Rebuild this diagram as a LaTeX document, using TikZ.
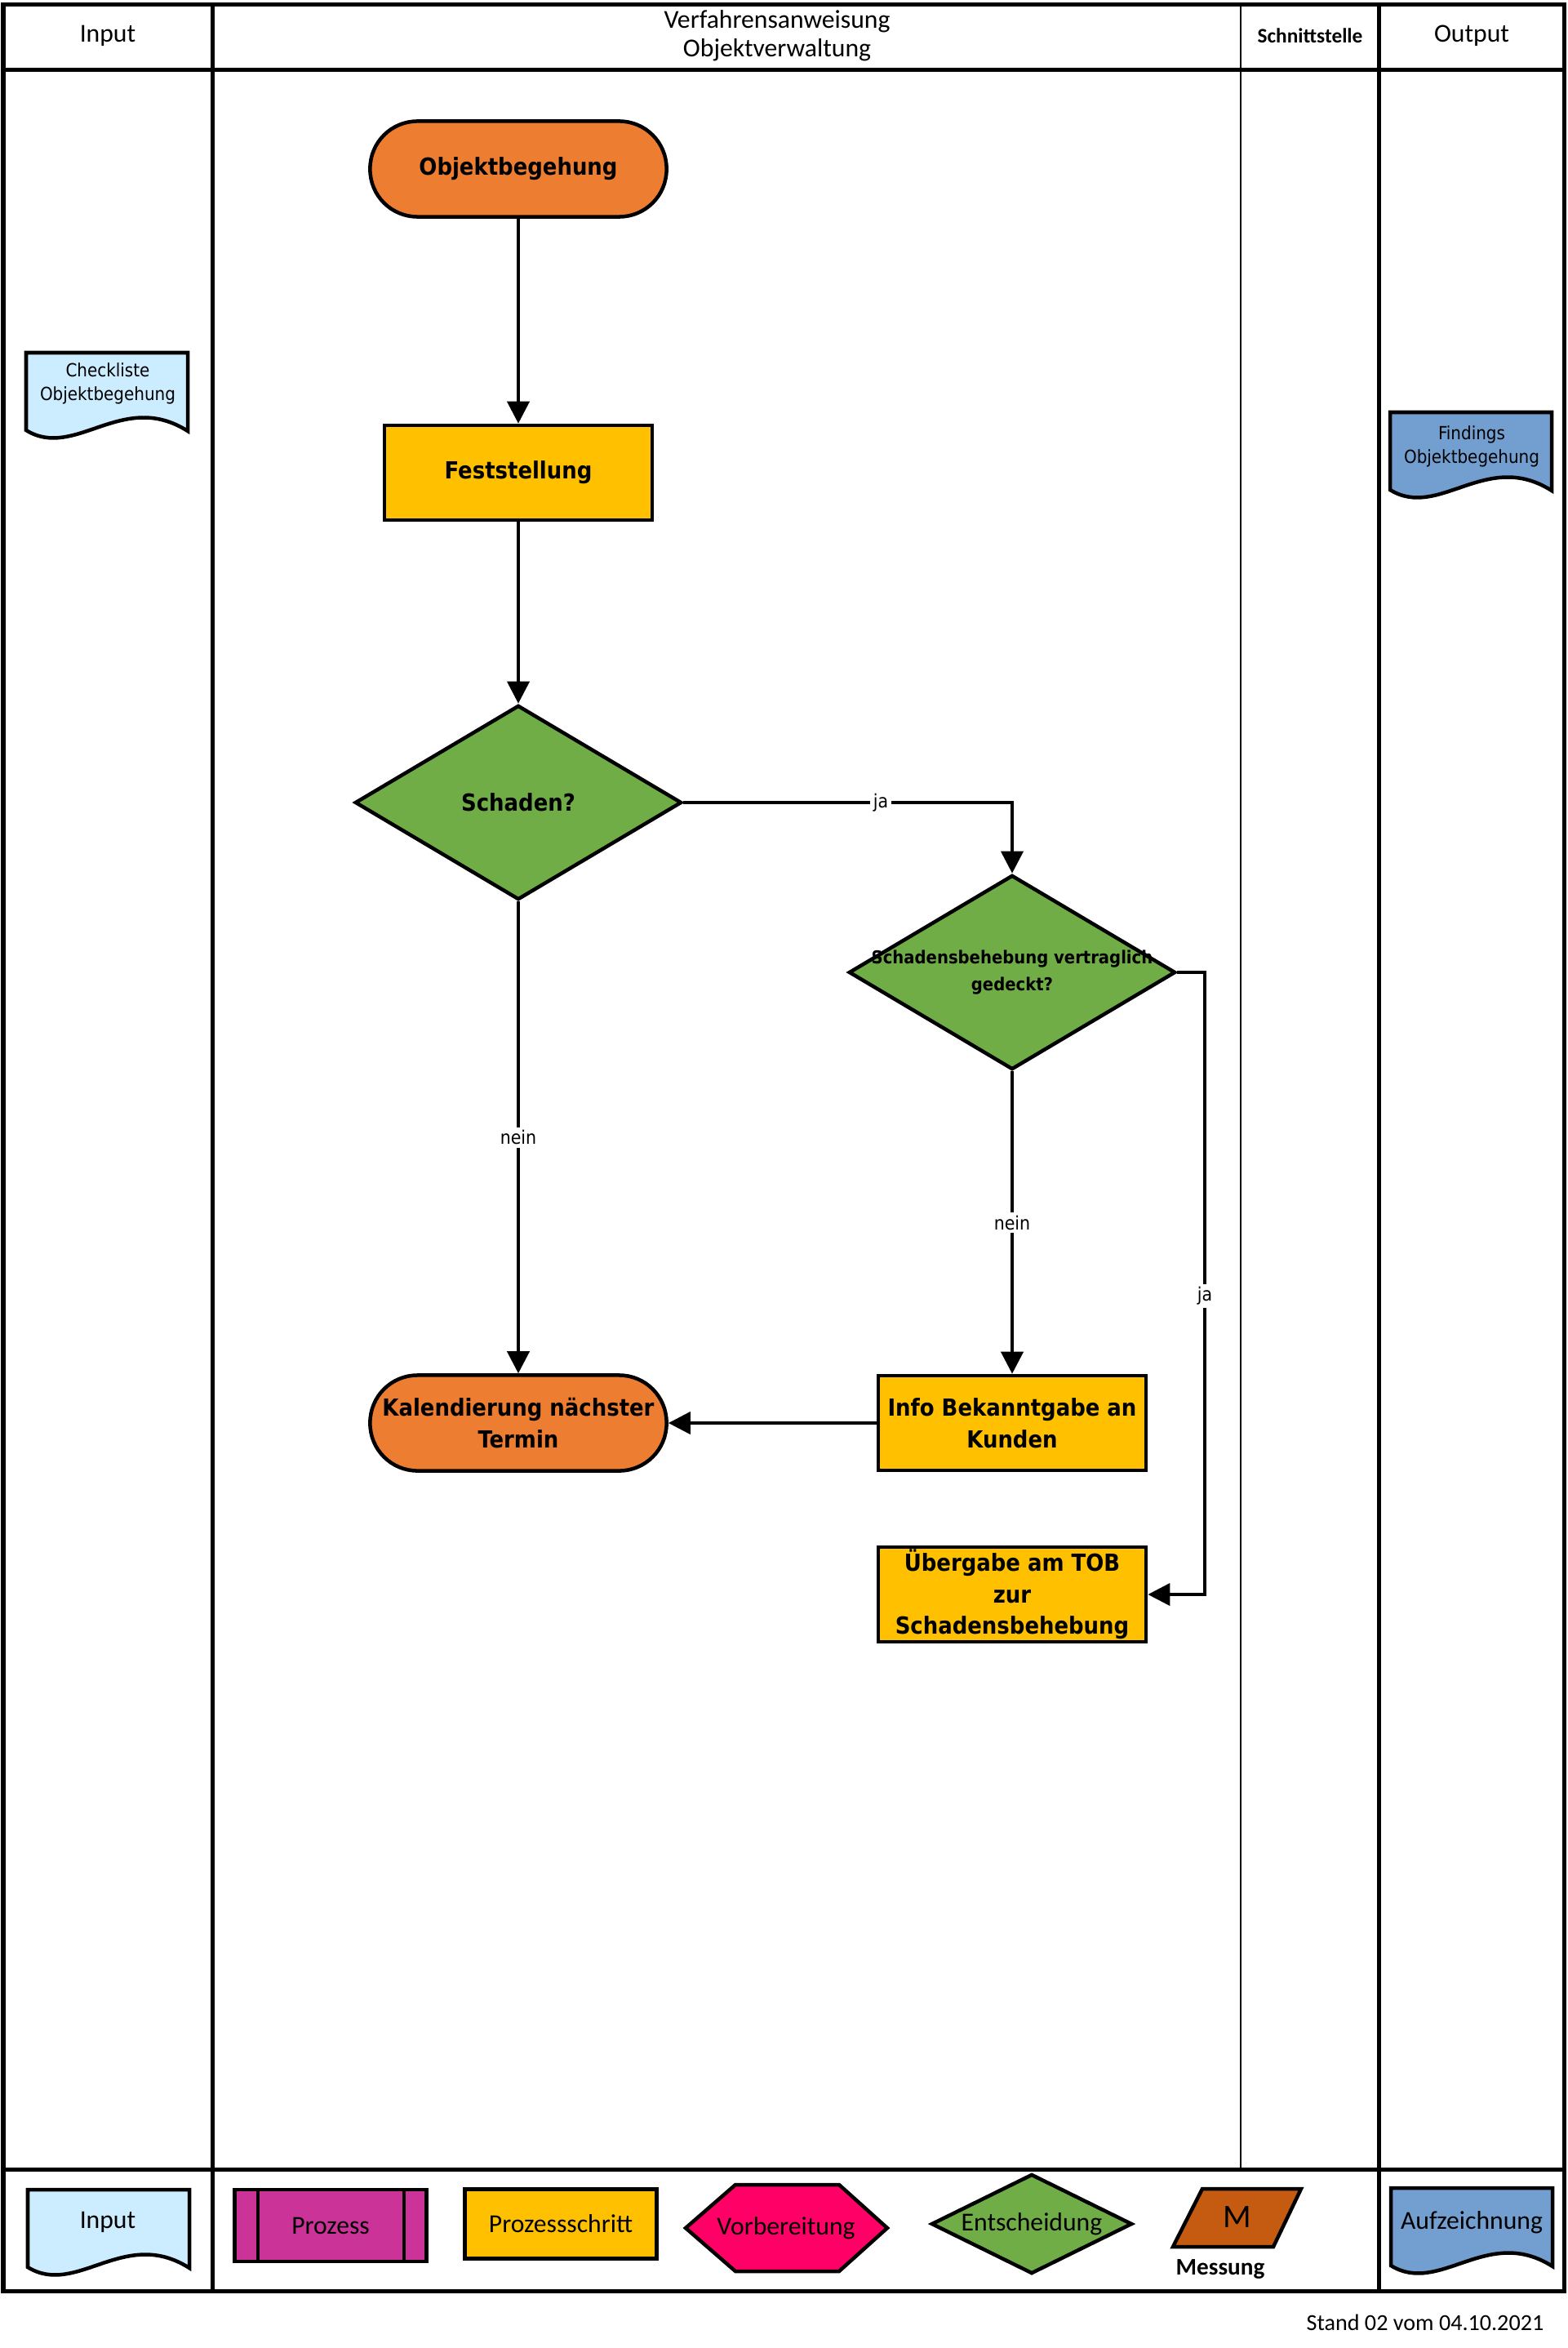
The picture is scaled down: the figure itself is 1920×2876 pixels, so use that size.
\documentclass[tikz,border=0pt]{standalone}
\usepackage{fontspec}
\setmainfont{Carlito}
\newfontfamily\flowfont{DejaVu Sans Condensed}
\usepackage{tikz}
\usetikzlibrary{
  calc,
  positioning,
  arrows.meta,
  shapes.geometric
}
\definecolor{termorange}{HTML}{ED7D31}
\definecolor{stepyellow}{HTML}{FFC000}
\definecolor{decgreen}{HTML}{70AD47}
\definecolor{inblue}{HTML}{CCECFF}
\definecolor{outblue}{HTML}{729FCF}
\definecolor{prozmagenta}{HTML}{CC3399}
\definecolor{vorbpink}{HTML}{FF0066}
\definecolor{messorange}{HTML}{C55A11}

\begin{document}
\begin{tikzpicture}[x=0.01cm, y=-0.01cm, > ={Triangle[length=0.27cm,width=0.27cm]}]
  \tikzset{
    frame/.style={line width=0.05cm},
    thinframe/.style={line width=0.025cm},
    box/.style={draw, line width=0.045cm, inner sep=1pt, align=center,
      font=\flowfont\bfseries\fontsize{8.2}{11}\selectfont},
    terminal/.style={box, fill=termorange, minimum width=3.63cm,
      minimum height=1.17cm, rounded corners=0.58cm},
    stepbox/.style={box, fill=stepyellow, minimum width=3.28cm, minimum height=1.16cm},
    decision/.style={box, diamond, fill=decgreen, minimum width=4cm, minimum height=2.38cm},
    flow/.style={->, line width=0.04cm},
    lbl/.style={fill=white, inner sep=1pt, font=\flowfont\fontsize{6.5}{8}\selectfont},
    docline/.style={line width=0.045cm},
    doctext/.style={align=center, font=\flowfont\fontsize{6.3}{8.2}\selectfont},
    legendtext/.style={font=\fontsize{9}{11}\selectfont},
    headtext/.style={align=center, font=\fontsize{9}{10}\selectfont},
    docshape/.pic={
      \draw[docline, pic actions] (0,0) -- (198,0) -- (198,96)
        .. controls (118,45) and (60,132) .. (0,95) -- cycle;
    },
  }
  \useasboundingbox (0,0) rectangle (1920,2876);

  % swimlanes
  \draw[frame] (4,6) rectangle (1916,2806);
  \draw[frame] (4,86) -- (1916,86);
  \draw[frame] (4,2657) -- (1916,2657);
  \draw[frame] (260,6) -- (260,2806);
  \draw[frame] (1689,6) -- (1689,2806);
  \draw[thinframe] (1520,6) -- (1520,2657);

  \node[headtext] (hdInput) at (132,44) {Input};
  \node[headtext] (hdVerfahren) at (952,44) {Verfahrensanweisung\\Objektverwaltung};
  \node[font=\bfseries\fontsize{7.2}{9}\selectfont] (hdSchnitt) at (1605,44) {Schnittstelle};
  \node[headtext] (hdOutput) at (1803,44) {Output};

  % input / output documents
  \pic[fill=inblue] at (32,432) {docshape};
  \node[doctext] (checkliste) at (132,470) {Checkliste\\Objektbegehung};
  \pic[fill=outblue] at (1703,505) {docshape};
  \node[doctext] (findings) at (1803,547) {Findings\\Objektbegehung};

  % flow
  \node[terminal] (begehung) at (635,207) {Objektbegehung};
  \node[stepbox] (feststellung) at (635,579) {Feststellung};
  \node[decision] (schaden) at (635,983) {Schaden?};
  \node[decision] (gedeckt) at (1240,1191) {};
  \node[align=center, font=\flowfont\bfseries\fontsize{6.2}{9.4}\selectfont]
    (gedecktText) at (gedeckt) {Schadensbehebung vertraglich\\gedeckt?};
  \node[terminal] (termin) at (635,1743) {Kalendierung nächster\\Termin};
  \node[stepbox] (info) at (1240,1743) {Info Bekanntgabe an\\Kunden};
  \node[stepbox, inner sep=0pt] (uebergabe) at (1240,1953) {Übergabe am TOB\\zur\\Schadensbehebung};
  \coordinate (jaknick) at (1476,1953);

  \draw[flow] (begehung) -- (feststellung);
  \draw[flow] (feststellung) -- (schaden);
  \draw[flow] (schaden.east) -| node[lbl, pos=0.3] {ja} (gedeckt.north);
  \draw[flow] (schaden) -- node[lbl] {nein} (termin);
  \draw[flow] (gedeckt) -- node[lbl] {nein} (info);
  \draw[flow] (gedeckt.east) -| node[lbl, pos=0.76] {ja} (jaknick) -- (uebergabe.east);
  \draw[flow] (info) -- (termin);

  % legend
  \pic[fill=inblue] at (34,2682) {docshape};
  \node[legendtext] (lgInput) at (132,2722) {Input};
  \node[draw, docline, fill=prozmagenta, minimum width=2.35cm, minimum height=0.88cm,
    legendtext] (lgProzess) at (405,2726) {Prozess};
  \draw[docline] ($(lgProzess.north west)+(31,0)$) -- ($(lgProzess.south west)+(31,0)$);
  \draw[docline] ($(lgProzess.north east)+(-30,0)$) -- ($(lgProzess.south east)+(-30,0)$);
  \node[draw, docline, fill=stepyellow, minimum width=2.35cm, minimum height=0.85cm,
    legendtext] (lgSchritt) at (687,2724) {Prozessschritt};
  \draw[docline, fill=vorbpink] (840,2729) -- (901,2676) -- (1028,2676) -- (1087,2729)
    -- (1028,2782) -- (901,2782) -- cycle;
  \node[legendtext] (lgVorb) at (963,2729) {Vorbereitung};
  \node[draw, docline, diamond, fill=decgreen, minimum width=2.46cm, minimum height=1.22cm,
    inner sep=0pt] (lgEntsch) at (1264,2724) {};
  \node[legendtext] (lgEntschText) at (lgEntsch) {Entscheidung};
  \draw[docline, fill=messorange] (1473,2681) -- (1594,2681) -- (1560,2752) -- (1437,2752) -- cycle;
  \node[font=\fontsize{11.5}{12}\selectfont] (lgM) at (1516,2715) {M};
  \node[font=\bfseries\fontsize{8.3}{10}\selectfont] (lgMessung) at (1495,2779) {Messung};
  \pic[fill=outblue] at (1704,2680) {docshape};
  \node[legendtext] (lgAufz) at (1803,2722) {Aufzeichnung};

  \node[anchor=east, inner sep=0pt, font=\fontsize{8}{10}\selectfont] (stand) at (1892,2845) {Stand 02 vom 04.10.2021};
\end{tikzpicture}
\end{document}
